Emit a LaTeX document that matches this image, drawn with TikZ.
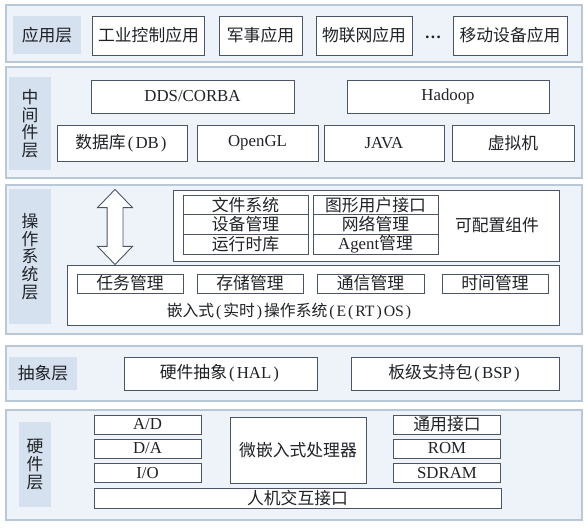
\documentclass[tikz,border=0pt]{standalone}
\usepackage{fontspec}
\setmainfont{Liberation Serif}
\newfontfamily\cjk{Noto Sans CJK SC}
\usepackage{tikz}
\usetikzlibrary{shapes.arrows}
\definecolor{Ink}{HTML}{1F2226}
\definecolor{Frame}{HTML}{B9C8D9}
\definecolor{Pale}{HTML}{EEF3F9}
\definecolor{Tag}{HTML}{D5E1EE}
\definecolor{Edge}{HTML}{4A5565}
\newcommand{\lpar}{\makebox[0.58em][c]{\rmfamily (}}
\newcommand{\rpar}{\makebox[0.58em][c]{\rmfamily )}}

\begin{document}
\begin{tikzpicture}[
  x=1pt, y=-1pt,
  font=\cjk\fontsize{16.8}{17.6}\selectfont,
  layer/.style={draw=Frame, fill=Pale, line width=1.2pt, inner sep=0pt},
  tag/.style={fill=Tag, text=Ink, align=center, inner sep=0pt},
  item/.style={draw=Edge, fill=white, line width=0.9pt, text=Ink, inner sep=0pt},
  cell/.style={item, minimum width=125pt, minimum height=19.7pt},
  task/.style={item, minimum height=19pt},
  hw/.style={item, minimum width=107pt, minimum height=19pt}
]
\useasboundingbox (0,0) rectangle (588,527);

% application layer
\node[layer, minimum width=576pt, minimum height=57pt] (app) at (294,33.5) {};
\node[tag, minimum width=68pt, minimum height=38pt] (apptag) at (47,35) {应用层};
\node[item, minimum width=112pt, minimum height=39pt] (ind) at (148.5,35.5) {工业控制应用};
\node[item, minimum width=83pt, minimum height=39pt] (mil) at (260.5,35.5) {军事应用};
\node[item, minimum width=96pt, minimum height=39pt] (iot) at (364,35.5) {物联网应用};
\node[text=Ink] (more) at (433,37) {\rmfamily\bfseries\dots};
\node[item, minimum width=114pt, minimum height=39pt] (mob) at (510,35.5) {移动设备应用};

% middleware layer
\node[layer, minimum width=576pt, minimum height=111pt] (mid) at (294,122.5) {};
\node[tag, minimum width=42pt, minimum height=93pt] (midtag) at (30,123.5) {中\\间\\件\\层};
\node[item, minimum width=203pt, minimum height=33pt] (dds) at (192.5,96.5) {\rmfamily DDS/CORBA};
\node[item, minimum width=202pt, minimum height=33pt] (hadoop) at (448,96.5) {\rmfamily Hadoop};
\node[item, minimum width=130pt, minimum height=36pt] (db) at (122,143) {数据库\lpar{\rmfamily DB}\rpar};
\node[item, minimum width=121pt, minimum height=36pt] (gl) at (257.5,143) {\rmfamily OpenGL};
\node[item, minimum width=120pt, minimum height=36pt] (java) at (384,143) {\rmfamily JAVA};
\node[item, minimum width=122pt, minimum height=36pt] (vm) at (513,143) {虚拟机};

% operating system layer
\node[layer, minimum width=576pt, minimum height=149pt] (os) at (294,259.5) {};
\node[tag, minimum width=42pt, minimum height=135pt] (ostag) at (30,256.5) {操\\作\\系\\统\\层};
\node[item, minimum width=386pt, minimum height=71pt] (cfg) at (366,225.5) {};
\node[text=Ink] (cfgtxt) at (497,225.5) {可配置组件};
\node[cell] (fs) at (245.5,204.8) {文件系统};
\node[cell] (dev) at (245.5,224.5) {设备管理};
\node[cell] (rt) at (245.5,244.2) {运行时库};
\node[cell] (gui) at (375.5,204.8) {图形用户接口};
\node[cell] (net) at (375.5,224.5) {网络管理};
\node[cell] (agent) at (375.5,244.2) {{\rmfamily Agent}管理};
\node[item, minimum width=492pt, minimum height=60pt] (ertos) at (313,295) {};
\node[task, minimum width=106pt] (tsk) at (130,283.5) {任务管理};
\node[task, minimum width=106pt] (mem) at (250,283.5) {存储管理};
\node[task, minimum width=107pt] (com) at (370.5,283.5) {通信管理};
\node[task, minimum width=106pt] (clk) at (495,283.5) {时间管理};
\node[text=Ink, font=\cjk\fontsize{15.8}{17}\selectfont] (ertostxt) at (290,311)
  {嵌入式\lpar 实时\rpar 操作系统\lpar{\rmfamily E}\lpar{\rmfamily RT}\rpar{\rmfamily OS}\rpar};
\node[draw=Edge, fill=white, line width=0.9pt, double arrow, rotate=90,
      minimum height=75pt, inner xsep=0pt, inner ysep=7.5pt,
      double arrow head extend=9.5pt, double arrow tip angle=88] (link) at (115,227) {};

% abstraction layer
\node[layer, minimum width=576pt, minimum height=55pt] (abs) at (294,373.5) {};
\node[tag, minimum width=68pt, minimum height=33pt] (abstag) at (43,373) {抽象层};
\node[item, minimum width=193pt, minimum height=33pt] (hal) at (220.5,373.5) {硬件抽象\lpar{\rmfamily HAL}\rpar};
\node[item, minimum width=208pt, minimum height=33pt] (bsp) at (455,373.5) {板级支持包\lpar{\rmfamily BSP}\rpar};

% hardware layer
\node[layer, minimum width=576pt, minimum height=110pt] (hwl) at (294,465) {};
\node[tag, minimum width=32pt, minimum height=85pt] (hwtag) at (35,464.5) {硬\\件\\层};
\node[hw] (ad) at (147.5,424.5) {\rmfamily A/D};
\node[hw] (da) at (147.5,448.5) {\rmfamily D/A};
\node[hw] (io) at (147.5,473) {\rmfamily I/O};
\node[item, minimum width=136pt, minimum height=66pt] (cpu) at (298,450) {微嵌入式处理器};
\node[hw] (gpi) at (447,424.5) {通用接口};
\node[hw] (rom) at (447,448.5) {\rmfamily ROM};
\node[hw] (sdram) at (447,473) {\rmfamily SDRAM};
\node[item, minimum width=407pt, minimum height=20pt] (hmi) at (297.5,498) {人机交互接口};
\end{tikzpicture}
\end{document}
